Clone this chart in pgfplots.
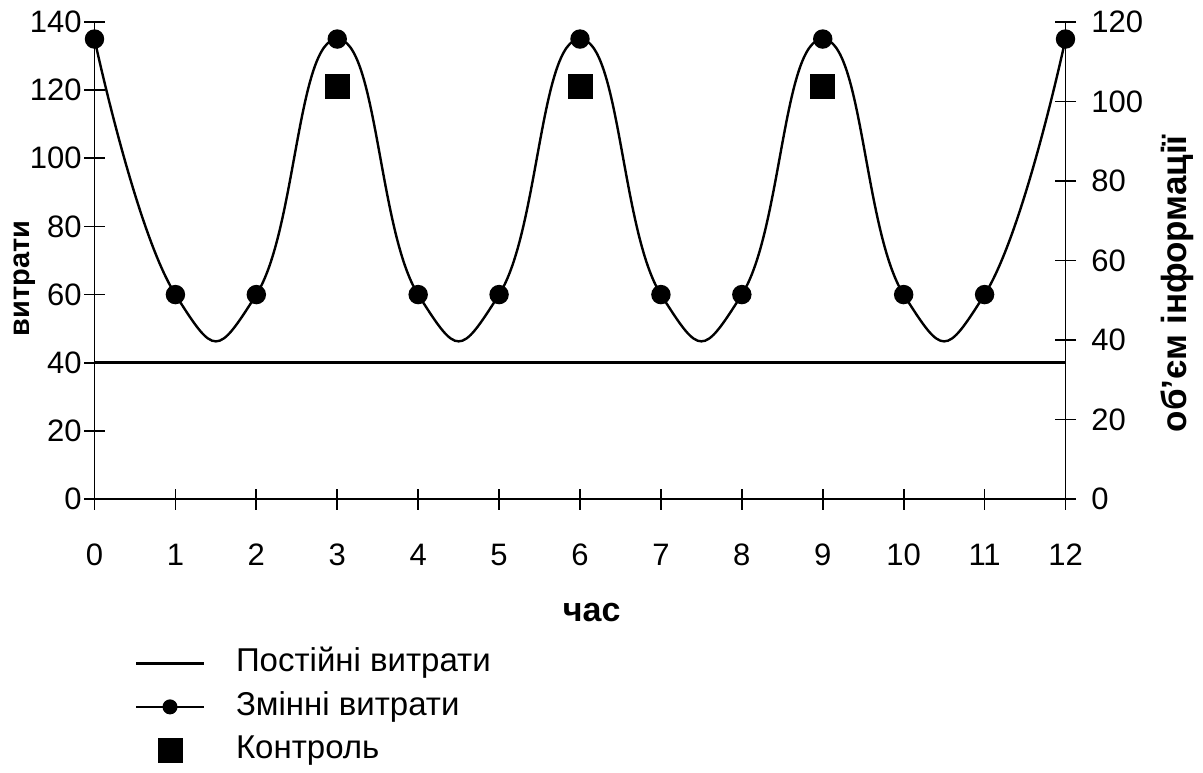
\documentclass[border=0pt]{standalone}
\usepackage{fontspec}
\setmainfont{Liberation Sans}
\usepackage{pgfplots}
\pgfplotsset{compat=1.18}
\begin{document}
\begin{tikzpicture}
\path[use as bounding box] (-47.25pt,-136.5pt) rectangle (554.25pt,249.5pt);
\pgfplotsset{
  common/.style={
    at={(0pt,0pt)}, anchor=south west,
    scale only axis, width=485.5pt, height=238.5pt,
    xmin=0, xmax=12,
    tick align=center, major tick length=10.5pt,
    tick style={black, line width=0.9pt},
    axis line style={black, line width=0.9pt},
    font=\fontsize{15.5}{18}\selectfont,
    /pgf/number format/assume math mode=true,
  }
}
\begin{axis}[common,
  ymin=0, ymax=140,
  axis x line*=bottom, axis y line*=left,
  xtick={0,1,...,12}, ytick={0,20,...,140},
  xticklabel style={inner sep=0pt, anchor=north, yshift=-17pt},
  yticklabel style={inner sep=0pt, anchor=east, xshift=-1pt},
  xlabel={\bfseries час},
  xlabel style={at={(axis description cs:0.512,-0.237)}, anchor=center, font=\fontsize{17}{20}\selectfont},
  ylabel={\bfseries витрати},
  ylabel style={at={(axis description cs:-0.0715,0.463)}, anchor=center, font=\fontsize{14.5}{17}\selectfont},
  legend cell align=left,
  legend style={at={(axis description cs:0.0412,-0.31)}, anchor=north west,
    draw=none, fill=none, inner sep=0pt, row sep=5.5pt,
    font=\fontsize{16.5}{19}\selectfont,
    nodes={inner sep=0pt, text height=12.2pt, text depth=4pt}},
]
\addplot[black, line width=1.3pt,
  legend image code/.code={\draw[black, line width=1.1pt] (0pt,0pt) -- (34pt,0pt); \path[draw=none] (0pt,0pt) -- (50pt,0pt);}]
  coordinates {(0,40) (12,40)};
\addlegendentry{Постійні витрати}
\addplot[black, line width=1.2pt, smooth, tension=0.88, mark=*, mark size=4.25pt, mark options={solid},
  legend image code/.code={\draw[black, line width=1.1pt, mark=*, mark size=3.2pt, mark repeat=2, mark phase=2] plot coordinates {(0pt,0pt) (17pt,0pt) (34pt,0pt)}; \path[draw=none] (0pt,0pt) -- (50pt,0pt);}]
  coordinates {(0,135) (1,60) (2,60) (3,135) (4,60) (5,60) (6,135) (7,60) (8,60) (9,135) (10,60) (11,60) (12,135)};
\addlegendentry{Змінні витрати}
\addplot[black, only marks, mark=square*, mark size=6pt,
  legend image code/.code={\draw[black, mark=square*, mark size=6pt] plot coordinates {(17pt,0pt)}; \path[draw=none] (0pt,0pt) -- (50pt,0pt);}]
  coordinates {(3,121) (6,121) (9,121)};
\addlegendentry{Контроль}
\end{axis}
\begin{axis}[common,
  ymin=0, ymax=120,
  axis x line=none, axis y line*=right,
  ytick={0,20,...,120},
  yticklabel style={inner sep=0pt, anchor=west, xshift=7.5pt},
  ylabel={\bfseries об’єм інформації},
  ylabel style={at={(axis description cs:1.115,0.451)}, anchor=center, rotate=0, font=\fontsize{17.5}{20}\selectfont},
]
\addplot[draw=none] coordinates {(0,0) (12,120)};
\end{axis}
\end{tikzpicture}
\end{document}
